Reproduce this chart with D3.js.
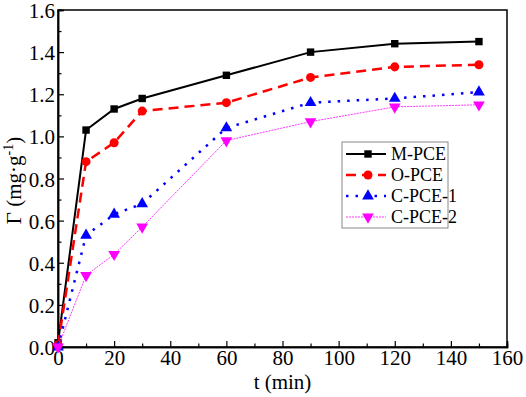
<!DOCTYPE html>
<html>
<head>
<meta charset="utf-8">
<script src="https://cdn.jsdelivr.net/npm/d3@7"></script>
<style>
  body { margin: 0; background: #fff; }
</style>
</head>
<body>
<svg id="chart" width="526" height="397"></svg>
<script>
// data
const times = [0, 10, 20, 30, 60, 90, 120, 150];
const mPCE  = [0.02, 1.03, 1.13, 1.18, 1.29, 1.40, 1.44, 1.45];
const oPCE  = [0.01, 0.88, 0.97, 1.12, 1.16, 1.28, 1.33, 1.34];
const cPCE1 = [0.0, 0.53, 0.63, 0.68, 1.04, 1.16, 1.18, 1.21];
const cPCE2 = [0.0, 0.34, 0.44, 0.57, 0.98, 1.07, 1.14, 1.15];
const seriesNames = ["M-PCE", "O-PCE", "C-PCE-1", "C-PCE-2"];
const xTicks = [0, 20, 40, 60, 80, 100, 120, 140, 160];
const yTicks = [0, 0.2, 0.4, 0.6, 0.8, 1.0, 1.2, 1.4, 1.6];

const FONT = "'Liberation Serif'";

const styles = [
  { color: "#000000", width: 2,   dash: null,    marker: d3.symbolSquare,   size: 55 },
  { color: "#ff0000", width: 2.5, dash: "10,6",  marker: d3.symbolCircle,   size: 64 },
  { color: "#0000ff", width: 2.5, dash: "2.5,7", marker: d3.symbolTriangle, size: 60 },
  { color: "#ff00ff", width: 0.8, dash: "2,1",   marker: "down",            size: 60 }
];
const allSeries = [mPCE, oPCE, cPCE1, cPCE2];

const svg = d3.select("#chart");
const mLeft = 58, mRight = 507, mTop = 10, mBottom = 347;

const x = d3.scaleLinear().domain([0, 160]).range([mLeft, mRight]);
const y = d3.scaleLinear().domain([0, 1.6]).range([mBottom, mTop]);

// frame
svg.append("rect")
  .attr("x", mLeft).attr("y", mTop)
  .attr("width", mRight - mLeft).attr("height", mBottom - mTop)
  .attr("fill", "none").attr("stroke", "#000").attr("stroke-width", 1.5);

// axes, ticks pointing inward
const xAxis = svg.append("g").attr("transform", `translate(0,${mBottom})`)
  .call(d3.axisBottom(x).tickValues(xTicks).tickFormat(d3.format("d")).tickSize(-6).tickPadding(9));
svg.append("g").attr("transform", `translate(0,${mBottom})`)
  .call(d3.axisBottom(x).tickValues(d3.range(10, 160, 20)).tickFormat("").tickSize(-3.5));

const yAxis = svg.append("g").attr("transform", `translate(${mLeft},0)`)
  .call(d3.axisLeft(y).tickValues(yTicks).tickFormat(d3.format(".1f")).tickSize(-6).tickPadding(3));
svg.append("g").attr("transform", `translate(${mLeft},0)`)
  .call(d3.axisLeft(y).tickValues(d3.range(0.1, 1.6, 0.2)).tickFormat("").tickSize(-3.5));

svg.selectAll("g").attr("font-family", null);
svg.selectAll(".domain").attr("stroke", "#000").attr("stroke-width", 1.5);
svg.selectAll(".tick line").attr("stroke", "#000").attr("stroke-width", 1.2);
svg.selectAll(".tick text")
  .style("font-family", FONT).style("font-size", "21px").attr("fill", "#000");
xAxis.selectAll(".tick text").attr("y", 3);
yAxis.selectAll(".tick text").attr("dy", "0.36em");

// axis titles
svg.append("text")
  .attr("x", (mLeft + mRight) / 2).attr("y", 389)
  .attr("text-anchor", "middle")
  .style("font-family", FONT).style("font-size", "21px")
  .text("t (min)");

const yt = svg.append("text")
  .attr("transform", `translate(21,${(mTop + mBottom) / 2 + 2}) rotate(-90)`)
  .attr("text-anchor", "middle")
  .style("font-family", FONT).style("font-size", "21px");
yt.append("tspan").text("Γ (mg·g");
yt.append("tspan").attr("dy", -8).style("font-size", "14px").text("-1");
yt.append("tspan").attr("dy", 8).text(")");

function markerPath(s) {
  const t = s.marker === "down" ? d3.symbolTriangle : s.marker;
  return d3.symbol().type(t).size(s.size)();
}

const line = d3.line().x((d, i) => x(times[i])).y(d => y(d));

allSeries.forEach((vals, k) => {
  const s = styles[k];
  const g = svg.append("g");
  g.append("path")
    .attr("d", line(vals))
    .attr("fill", "none")
    .attr("stroke", s.color)
    .attr("stroke-width", s.width)
    .attr("stroke-dasharray", s.dash);
  g.selectAll("path.mk")
    .data(vals)
    .enter()
    .append("path")
    .attr("class", "mk")
    .attr("d", markerPath(s))
    .attr("fill", s.color)
    .attr("transform", (d, i) => `translate(${x(times[i])},${y(d)})` + (s.marker === "down" ? " rotate(180)" : ""));
});

// legend
const lg = svg.append("g");
lg.append("rect")
  .attr("x", 342).attr("y", 142).attr("width", 106).attr("height", 86)
  .attr("fill", "#fff").attr("stroke", "#888").attr("stroke-width", 1);

seriesNames.forEach((name, k) => {
  const s = styles[k];
  const ly = 154 + k * 21;
  lg.append("line")
    .attr("x1", 346).attr("x2", 386).attr("y1", ly).attr("y2", ly)
    .attr("stroke", s.color).attr("stroke-width", s.width)
    .attr("stroke-dasharray", s.dash);
  lg.append("path")
    .attr("d", markerPath(s))
    .attr("fill", s.color)
    .attr("transform", `translate(368,${ly})` + (s.marker === "down" ? " rotate(180)" : ""));
  lg.append("text")
    .attr("x", 391).attr("y", ly).attr("dy", "0.35em")
    .style("font-family", FONT).style("font-size", "18px")
    .text(name);
});
</script>
</body>
</html>
